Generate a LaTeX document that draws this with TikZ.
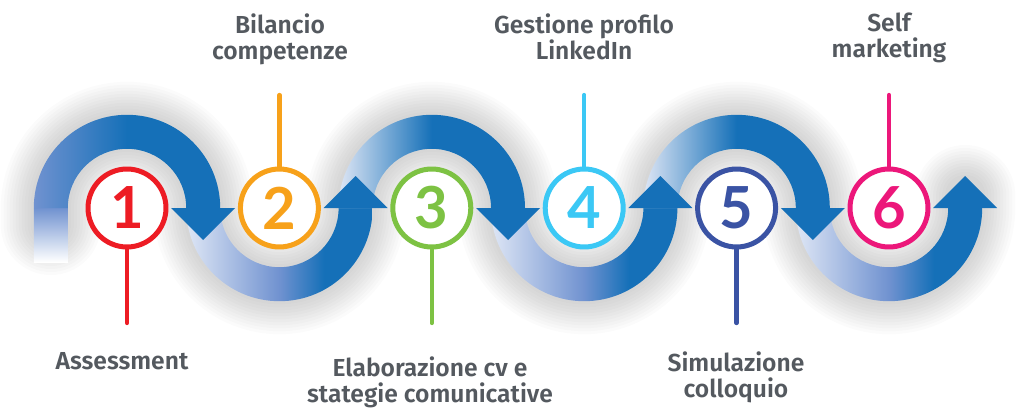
\documentclass[tikz,border=0pt]{standalone}
\usepackage{fontspec}
\setmainfont{Fira Sans}[UprightFont={* SemiBold}]
\newfontfamily\numfont{Lato}
\usepackage{tikz}

\definecolor{waveblue}{RGB}{21,112,184}
\definecolor{wavemid}{RGB}{112,146,208}
\definecolor{wavelight}{RGB}{222,230,245}
\definecolor{ringred}{RGB}{237,28,36}
\definecolor{ringorange}{RGB}{247,161,26}
\definecolor{ringgreen}{RGB}{125,194,67}
\definecolor{ringcyan}{RGB}{59,200,245}
\definecolor{ringnavy}{RGB}{58,83,164}
\definecolor{ringpink}{RGB}{236,23,122}
\definecolor{labelgray}{RGB}{84,89,95}

\pgfdeclarehorizontalshading{archfirst}{100bp}{color(0bp)=(wavemid); color(25bp)=(wavemid); color(50bp)=(waveblue); color(100bp)=(waveblue)}
\pgfdeclarehorizontalshading{archtop}{100bp}{color(0bp)=(wavelight); color(25bp)=(wavelight); color(50bp)=(waveblue); color(100bp)=(waveblue)}
\pgfdeclarehorizontalshading{archbot}{100bp}{color(0bp)=(wavelight); color(25bp)=(wavelight); color(50bp)=(wavemid); color(62bp)=(waveblue); color(100bp)=(waveblue)}

\begin{document}
\begin{tikzpicture}[x=0.02cm, y=0.02cm,
    numcircle/.style={circle, draw=#1, line width=0.1cm, fill=white, text=#1,
      minimum size=1.56cm, inner sep=0pt, font=\numfont\bfseries\fontsize{33}{33}\selectfont},
    stem/.style={draw=#1, line width=0.085cm, line cap=round},
    lbl/.style={text=labelgray, align=center, inner sep=0pt, font=\fontsize{14}{14.8}\selectfont},
    glow/.style={draw=black, opacity=0.016, line cap=round, line join=round},
    arrowtip/.style={fill=waveblue}]

    \useasboundingbox (0,0) rectangle (1024,410);

    % soft shadow behind the wave
    \foreach \w in {100,94,...,40}
        \draw[glow, line width=\w*0.02cm] (50.8,185) -- (50.8,202)
            arc[start angle=180, end angle=0, radius=76.2]
            arc[start angle=180, end angle=360, radius=76.2]
            arc[start angle=180, end angle=0, radius=76.2]
            arc[start angle=180, end angle=360, radius=76.2]
            arc[start angle=180, end angle=0, radius=76.2]
            arc[start angle=180, end angle=360, radius=76.2] -- (965.2,215);

    % wave
    \shade[top color=wavemid, bottom color=white] (33.8,148) rectangle (67.8,202);
    \shade[shading=archfirst] (33.8,202) arc[start angle=180, end angle=0, radius=93.2] -- (186.2,202) arc[start angle=0, end angle=180, radius=59.2] -- cycle;
    \shade[shading=archbot] (186.2,202) arc[start angle=180, end angle=360, radius=93.2] -- (338.6,202) arc[start angle=360, end angle=180, radius=59.2] -- cycle;
    \shade[shading=archtop] (338.6,202) arc[start angle=180, end angle=0, radius=93.2] -- (491.0,202) arc[start angle=0, end angle=180, radius=59.2] -- cycle;
    \shade[shading=archbot] (491.0,202) arc[start angle=180, end angle=360, radius=93.2] -- (643.4,202) arc[start angle=360, end angle=180, radius=59.2] -- cycle;
    \shade[shading=archtop] (643.4,202) arc[start angle=180, end angle=0, radius=93.2] -- (795.8,202) arc[start angle=0, end angle=180, radius=59.2] -- cycle;
    \shade[shading=archbot] (795.8,202) arc[start angle=180, end angle=360, radius=93.2] -- (948.2,202) arc[start angle=360, end angle=180, radius=59.2] -- cycle;

    % arrow heads
    \fill[arrowtip] (171.2,202) -- (235.2,202) -- (203.2,170) -- cycle;
    \fill[arrowtip] (323.6,202) -- (387.6,202) -- (355.6,234) -- cycle;
    \fill[arrowtip] (476.0,202) -- (540.0,202) -- (508.0,170) -- cycle;
    \fill[arrowtip] (628.4,202) -- (692.4,202) -- (660.4,234) -- cycle;
    \fill[arrowtip] (780.8,202) -- (844.8,202) -- (812.8,170) -- cycle;
    \fill[arrowtip] (933.2,202) -- (997.2,202) -- (965.2,234) -- cycle;

    \coordinate (end1) at (127,87);
    \coordinate (end2) at (279.4,315);
    \coordinate (end3) at (431.8,87);
    \coordinate (end4) at (584.2,315);
    \coordinate (end5) at (736.6,87);
    \coordinate (end6) at (889,315);

    \draw[stem=ringred] (127,202) -- (end1);
    \draw[stem=ringorange] (279.4,202) -- (end2);
    \draw[stem=ringgreen] (431.8,202) -- (end3);
    \draw[stem=ringcyan] (584.2,202) -- (end4);
    \draw[stem=ringnavy] (736.6,202) -- (end5);
    \draw[stem=ringpink] (889,202) -- (end6);

    \node[numcircle=ringred] (num1) at (127,202) {1};
    \node[numcircle=ringorange] (num2) at (279.4,202) {2};
    \node[numcircle=ringgreen] (num3) at (431.8,202) {3};
    \node[numcircle=ringcyan] (num4) at (584.2,202) {4};
    \node[numcircle=ringnavy] (num5) at (736.6,202) {5};
    \node[numcircle=ringpink] (num6) at (889,202) {6};

    \node[lbl, anchor=north] (lbl1) at (122,58) {Assessment};
    \node[lbl, anchor=north] (lbl2) at (280,397) {Bilancio\\competenze};
    \node[lbl, anchor=north] (lbl3) at (430,54) {Elaborazione cv e\\stategie comunicative};
    \node[lbl, anchor=north] (lbl4) at (584,397) {Gestione profilo\\LinkedIn};
    \node[lbl, anchor=north] (lbl5) at (736,59) {Simulazione\\colloquio};
    \node[lbl, anchor=north] (lbl6) at (889,397) {Self\\marketing};
\end{tikzpicture}
\end{document}
